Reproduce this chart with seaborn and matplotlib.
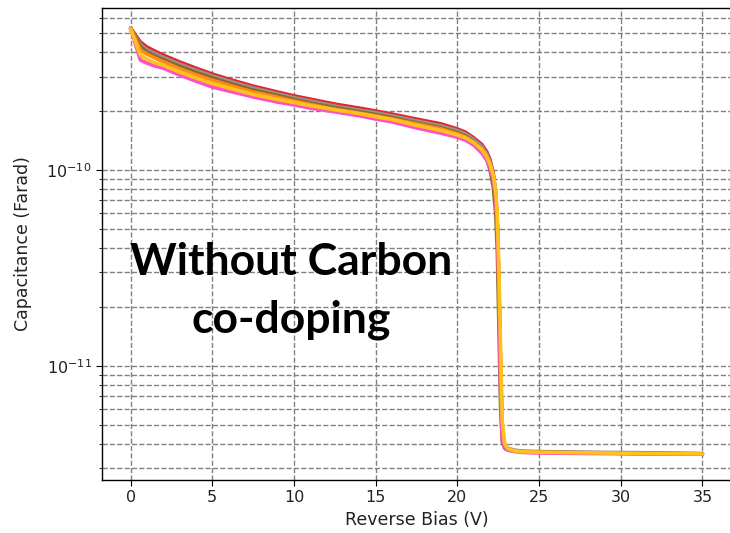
import numpy as np
import pandas as pd
import matplotlib
matplotlib.use("Agg")
import matplotlib.pyplot as plt
import seaborn as sns
from matplotlib.ticker import LogLocator, NullFormatter, FixedLocator

# Reverse bias (V)
bias = [0, 0.6, 1, 1.5, 2, 3, 4, 5, 6, 7.5, 9, 10, 11, 12.5, 14, 15, 16, 17.5, 19, 20,
        20.5, 21, 21.5, 21.8, 22, 22.2, 22.35, 22.45, 22.55, 22.65, 22.75, 22.9, 23.1,
        23.5, 24, 25, 27.5, 30, 32.5, 35]

# Capacitance in pF for each measured device
cap_red = [530, 450, 424, 404, 386, 356, 331, 309, 291, 268, 250, 239, 230, 217, 207, 200,
           193, 182, 172, 162, 156, 146, 135, 124, 113, 96, 76, 52, 24, 9, 4.8, 3.95, 3.78,
           3.70, 3.66, 3.64, 3.62, 3.60, 3.58, 3.56]
cap_gray = [528, 436, 412, 393, 376, 347, 323, 302, 285, 262, 245, 234, 225, 212, 202, 196,
            189, 178, 168, 159, 153, 143, 132, 121, 110, 94, 75, 51, 23, 8.5, 4.6, 3.95, 3.80,
            3.72, 3.68, 3.66, 3.63, 3.62, 3.60, 3.58]
cap_brown = [527, 425, 400, 382, 366, 338, 315, 295, 278, 256, 240, 229, 220, 208, 198, 192,
             185, 174, 164, 155, 149, 139, 127, 114, 100, 82, 60, 38, 15, 6, 4.1, 3.80, 3.72,
             3.68, 3.65, 3.63, 3.61, 3.59, 3.57, 3.56]
cap_orange = [527, 410, 390, 372, 357, 329, 306, 287, 271, 250, 235, 225, 216, 204, 195, 189,
              182, 172, 162, 153, 147, 138, 127, 117, 106, 91, 74, 52, 25, 9.5, 4.7, 3.90, 3.75,
              3.68, 3.64, 3.62, 3.60, 3.58, 3.56, 3.55]
cap_pink = [525, 364, 351, 339, 331, 305, 284, 265, 253, 236, 222, 215, 207, 198, 189, 182,
            176, 164, 154, 147, 142, 134, 122, 112, 102, 89, 72, 52, 24, 7.5, 4.2, 3.85, 3.72,
            3.66, 3.62, 3.60, 3.58, 3.57, 3.55, 3.55]
cap_yellow = [525, 385, 368, 352, 342, 316, 295, 276, 262, 243, 229, 221, 213, 203, 194, 187,
              181, 169, 159, 151, 146, 138, 127, 117, 107, 94, 78, 58, 30, 12, 5.2, 4.0, 3.78,
              3.69, 3.65, 3.63, 3.61, 3.59, 3.57, 3.56]

x_ticks = [0, 5, 10, 15, 20, 25, 30, 35]
y_major_ticks = [1e-11, 1e-10]

series = {"red": cap_red, "gray": cap_gray, "brown": cap_brown,
          "orange": cap_orange, "pink": cap_pink, "yellow": cap_yellow}
colors = {"red": "#e3262b", "gray": "#9a9090", "brown": "#8a6a2a",
          "orange": "#ff8c1a", "pink": "#ff4fc8", "yellow": "#ffc21a"}

frames = []
for name, vals in series.items():
    frames.append(pd.DataFrame({"bias": bias,
                                "cap": np.array(vals) * 1e-12,
                                "device": name}))
df = pd.concat(frames, ignore_index=True)

sns.set_style("ticks")
plt.rcParams["font.family"] = ["DejaVu Sans"]

fig = plt.figure(figsize=(7.30, 5.33), dpi=100)
ax = fig.add_axes([102 / 730, 53 / 533, 629 / 730, 472 / 533])

sns.lineplot(data=df, x="bias", y="cap", hue="device", palette=colors,
             linewidth=2.6, ax=ax, legend=False, sort=False)

ax.set_yscale("log")
ax.set_ylim(2.62e-12, 6.71e-10)
ax.set_xlim(-1.75, 36.75)
ax.set_xticks(x_ticks)
ax.yaxis.set_major_locator(FixedLocator(y_major_ticks))
ax.yaxis.set_minor_locator(LogLocator(base=10, subs=np.arange(2, 10)))
ax.yaxis.set_minor_formatter(NullFormatter())

ax.grid(True, which="major", axis="both", color="#808080", linestyle="--", linewidth=1)
ax.grid(True, which="minor", axis="y", color="#808080", linestyle="--", linewidth=1)
ax.set_axisbelow(True)

for s in ax.spines.values():
    s.set_color("black")
    s.set_linewidth(1.0)
ax.tick_params(axis="both", which="major", labelsize=11.5, length=4, color="black",
               labelcolor="#222222")
ax.tick_params(axis="y", which="minor", length=2.5, color="black")

ax.set_xlabel("Reverse Bias (V)", fontsize=12.5, color="#222222", labelpad=4)
ax.set_ylabel("Capacitance (Farad)", fontsize=12.5, color="#222222", labelpad=10)

fig.text(291 / 730, 1 - 262 / 533, "Without Carbon", ha="center", va="center",
         fontsize=32, fontweight="bold", color="black", family=["Lato", "DejaVu Sans"])
fig.text(291 / 730, 1 - 320 / 533, "co-doping", ha="center", va="center",
         fontsize=32, fontweight="bold", color="black", family=["Lato", "DejaVu Sans"])

fig.savefig("out.png", dpi=100)
